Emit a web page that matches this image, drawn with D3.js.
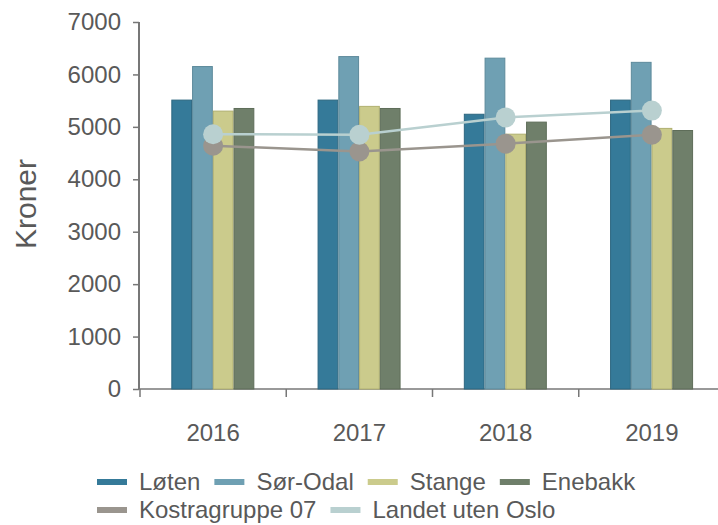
<!DOCTYPE html>
<html>
<head>
<meta charset="utf-8">
<script src="https://cdn.jsdelivr.net/npm/d3@7"></script>
<style>
  body { margin: 0; background: #fff; }
  text { font-family: "Liberation Sans", Arial, sans-serif; fill: #595959; }
</style>
</head>
<body>
<div id="chart"></div>
<script>
var years = ["2016", "2017", "2018", "2019"];
var barSeries = ["Løten", "Sør-Odal", "Stange", "Enebakk"];
var loten = [5520, 5520, 5250, 5520];
var sorOdal = [6160, 6350, 6320, 6240];
var stange = [5310, 5400, 4870, 4980];
var enebakk = [5360, 5360, 5100, 4940];
var lineSeries = ["Kostragruppe 07", "Landet uten Oslo"];
var kostra = [4640, 4530, 4680, 4850];
var landet = [4860, 4850, 5180, 5310];
var yTicks = [0, 1000, 2000, 3000, 4000, 5000, 6000, 7000];

var barColors = ["#357a99", "#6fa0b3", "#cbcb8c", "#6f7f6a"];
var barStroke = ["#2d6780", "#5d8a9b", "#b0b070", "#5e6d59"];
var lineColors = ["#9a958e", "#b9d0d0"];

var width = 718, height = 525;
var svg = d3.select("#chart").append("svg")
  .attr("width", width)
  .attr("height", height);

var x = d3.scaleBand().domain(years).range([140, 725]);
var inner = d3.scaleBand().domain(barSeries)
  .range([0, 83]);
var y = d3.scaleLinear().domain([0, 7000]).range([389, 22]);

// y axis
var yAxis = svg.append("g").attr("transform", "translate(139,0)")
  .call(d3.axisLeft(y).tickValues(yTicks).tickSize(6).tickPadding(12).tickFormat(d3.format("d")));
yAxis.select(".domain").attr("stroke", "#777").attr("stroke-width", 2).attr("d", "M0," + y(7000) + "V" + y(0));
yAxis.selectAll(".tick line").attr("stroke", "#777").attr("stroke-width", 1.5);
yAxis.selectAll(".tick text").style("font-size", "24px").attr("fill", "#595959");

// x axis
var xAxis = svg.append("g").attr("transform", "translate(0,389)");
xAxis.append("line").attr("x1", 139).attr("x2", 718).attr("stroke", "#777").attr("stroke-width", 1.5);
xAxis.selectAll("line.tk").data(years).enter().append("line")
  .attr("class", "tk")
  .attr("x1", function(d) { return x(d); })
  .attr("x2", function(d) { return x(d); })
  .attr("y1", 0).attr("y2", 8)
  .attr("stroke", "#777").attr("stroke-width", 1.5);
xAxis.selectAll("text").data(years).enter().append("text")
  .attr("x", function(d) { return x(d) + x.bandwidth() / 2; })
  .attr("y", 44)
  .attr("dy", "0.35em")
  .attr("text-anchor", "middle")
  .style("font-size", "24px")
  .text(function(d) { return d; });

svg.append("text")
  .attr("transform", "translate(25,204) rotate(-90)")
  .attr("text-anchor", "middle")
  .attr("dy", "0.35em")
  .style("font-size", "30px")
  .text("Kroner");

// bars
var barData = [loten, sorOdal, stange, enebakk];
var offset = (x.bandwidth() - 83) / 2 - 0.3;
barData.forEach(function(vals, si) {
  svg.append("g").selectAll("rect").data(vals).enter().append("rect")
    .attr("x", function(d, i) { return x(years[i]) + offset + inner(barSeries[si]) + 0.5; })
    .attr("width", inner.bandwidth() - 1)
    .attr("y", function(d) { return y(d) + 0.5; })
    .attr("height", function(d) { return y(0) - y(d) - 0.5; })
    .attr("fill", barColors[si])
    .attr("stroke", barStroke[si])
    .attr("stroke-width", 1);
});

// lines
var lineData = [kostra, landet];
var line = d3.line()
  .x(function(d, i) { return x(years[i]) + x.bandwidth() / 2; })
  .y(function(d) { return y(d); });
lineData.forEach(function(vals, si) {
  var g = svg.append("g");
  g.append("path").datum(vals)
    .attr("d", line)
    .attr("fill", "none")
    .attr("stroke", lineColors[si])
    .attr("stroke-width", 2.5);
  g.selectAll("circle").data(vals).enter().append("circle")
    .attr("cx", function(d, i) { return x(years[i]) + x.bandwidth() / 2; })
    .attr("cy", function(d) { return y(d); })
    .attr("r", 10)
    .attr("fill", lineColors[si]);
});

// legend
var legendRows = [
  { y: 482, items: barSeries.map(function(n, i) { return { name: n, color: barColors[i] }; }) },
  { y: 510, items: lineSeries.map(function(n, i) { return { name: n, color: lineColors[i] }; }) }
];
legendRows.forEach(function(row) {
  var cx = 97;
  row.items.forEach(function(it) {
    svg.append("rect")
      .attr("x", cx).attr("y", row.y - 3)
      .attr("width", 30).attr("height", 6)
      .attr("fill", it.color);
    var t = svg.append("text")
      .attr("x", cx + 42).attr("y", row.y)
      .attr("dy", "0.35em")
      .style("font-size", "24px")
      .text(it.name);
    cx += 42 + t.node().getComputedTextLength() + 14;
  });
});
</script>
</body>
</html>
